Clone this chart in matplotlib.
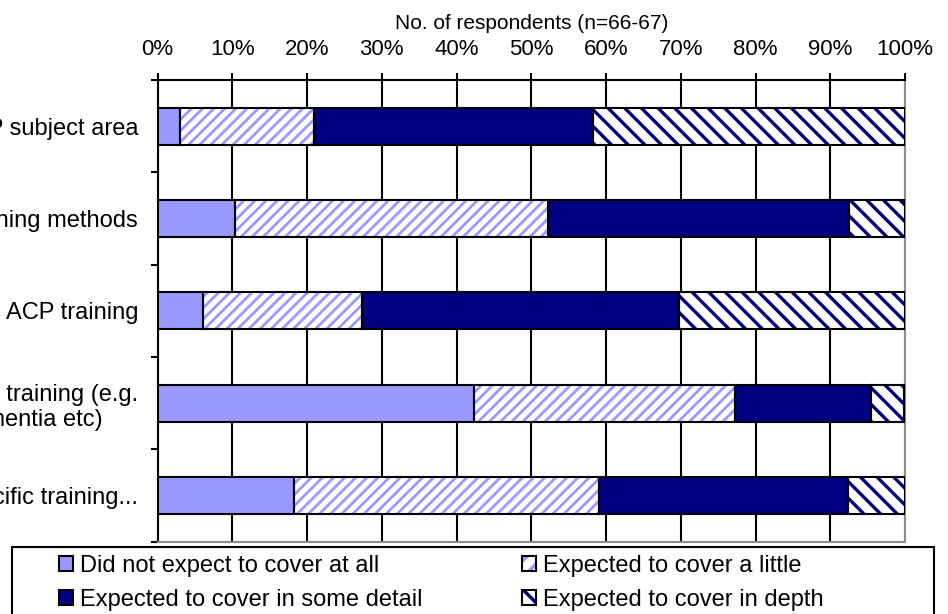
import matplotlib
matplotlib.use("Agg")
import matplotlib.pyplot as plt
import numpy as np
from matplotlib.patches import Rectangle, Patch
from matplotlib.legend_handler import HandlerBase

plt.rcParams['font.family'] = ['Liberation Sans', 'DejaVu Sans']

categories = ["ACP subject area",
              "ACP training methods",
              "ACP training",
              "Clinical training (e.g.\ndementia etc)",
              "Disease specific training..."]
series_names = ["Did not expect to cover at all",
                "Expected to cover a little",
                "Expected to cover in some detail",
                "Expected to cover in depth"]
not_at_all = [3.0, 10.4, 6.1, 42.4, 18.2]
a_little = [17.9, 41.8, 21.2, 34.8, 40.9]
some_detail = [37.3, 40.3, 42.4, 18.2, 33.3]
in_depth = [41.8, 7.5, 30.3, 4.5, 7.6]
x_ticks = [0, 10, 20, 30, 40, 50, 60, 70, 80, 90, 100]
x_ticklabels = [f"{t}%" for t in x_ticks]
x_title = "No. of respondents (n=66-67)"

LIGHT = '#9999FF'
DARK = '#000080'
# (face, hatch color, hatch, hatch lw, legend hatch)
styles = [
    (LIGHT, None, None, 1.0, None),
    ('white', LIGHT, '///', 2.0, '//'),
    (DARK, None, None, 1.0, None),
    ('white', DARK, '\\\\', 2.4, '\\'),
]
series = [not_at_all, a_little, some_detail, in_depth]

W, H = 948, 614
fig = plt.figure(figsize=(W / 100, H / 100), dpi=100)
ax = fig.add_axes([157.5 / W, 1 - 541.5 / H, (905 - 157.5) / W, (541.5 - 80) / H])

FS_TICK = 16  # x tick labels
FS_TITLE = 15
FS_CAT = 17   # category labels
FS_LEG = 17   # legend

y = np.arange(len(categories))
left = np.zeros(len(categories))
bar_h = 0.4
for vals, (face, hcol, hatch, hlw, _) in zip(series, styles):
    vals = np.array(vals)
    if hatch:
        plt.rcParams['hatch.linewidth'] = hlw
        ax.barh(y, vals, left=left, height=bar_h, color=face, edgecolor=hcol,
                hatch=hatch, linewidth=0, zorder=3)
    else:
        ax.barh(y, vals, left=left, height=bar_h, color=face, linewidth=0, zorder=3)
    ax.barh(y, vals, left=left, height=bar_h, fill=False, edgecolor='black',
            linewidth=1.5, zorder=4)
    left += vals

ax.set_xlim(0, 100)
ax.set_ylim(len(categories) - 0.5, -0.5)

ax.xaxis.tick_top()
ax.xaxis.set_label_position('top')
ax.set_xticks(x_ticks)
ax.set_xticklabels(x_ticklabels, fontsize=FS_TICK)
ax.set_xlabel(x_title, fontsize=FS_TITLE, labelpad=7)
ax.tick_params(axis='x', direction='out', length=5, width=1.5, pad=9.5, colors='black')
ax.grid(axis='x', color='black', linewidth=1.5, zorder=1)
ax.set_axisbelow(True)

ax.set_yticks(np.arange(-0.5, len(categories)))
ax.set_yticklabels([])
ax.set_yticks(y, minor=True)
ax.set_yticklabels(categories, minor=True, fontsize=FS_CAT)
for lab in ax.get_yticklabels(minor=True):
    lab.set_multialignment('center')
ax.tick_params(axis='y', which='major', direction='out', length=5, width=1.5)
ax.tick_params(axis='y', which='minor', length=0, pad=14)

for s in ['left', 'top']:
    ax.spines[s].set_color('black')
    ax.spines[s].set_linewidth(1.5)
for s in ['right', 'bottom']:
    ax.spines[s].set_color('#8c8c8c')
    ax.spines[s].set_linewidth(1.5)

# legend frame
fig.add_artist(Rectangle((11.7 / W, -0.05), (934 - 11.7) / W, 0.05 + 1 - 547.3 / H,
                         transform=fig.transFigure, fill=False, edgecolor='black',
                         linewidth=1.5))


class SwatchHandler(HandlerBase):
    def create_artists(self, legend, orig_handle, xdescent, ydescent, width, height,
                       fontsize, trans):
        face, hcol, hatch, hlw, lhatch = orig_handle.style
        x0, y0 = -xdescent, -ydescent
        arts = []
        if lhatch:
            plt.rcParams['hatch.linewidth'] = 2.5
            arts.append(Rectangle((x0, y0), width, height, facecolor=face, edgecolor=hcol,
                                  hatch=lhatch, linewidth=0, transform=trans))
        else:
            arts.append(Rectangle((x0, y0), width, height, facecolor=face, linewidth=0,
                                  transform=trans))
        arts.append(Rectangle((x0, y0), width, height, fill=False, edgecolor='black',
                              linewidth=1.5, transform=trans))
        return arts


handles = []
for name, st in zip(series_names, styles):
    p = Patch(label=name)
    p.style = st
    handles.append(p)

common = dict(frameon=False, fontsize=FS_LEG, handlelength=0.6, handleheight=0.6,
              handletextpad=0.3, labelspacing=0.5, borderpad=0, borderaxespad=0,
              loc='upper left', handler_map={Patch: SwatchHandler()})
leg1 = fig.legend([handles[0], handles[2]], [series_names[0], series_names[2]],
                  bbox_to_anchor=(59 / W, 1 - 555 / H), **common)
leg2 = fig.legend([handles[1], handles[3]], [series_names[1], series_names[3]],
                  bbox_to_anchor=(522 / W, 1 - 555 / H), **common)

fig.savefig("out.png", dpi=100)
